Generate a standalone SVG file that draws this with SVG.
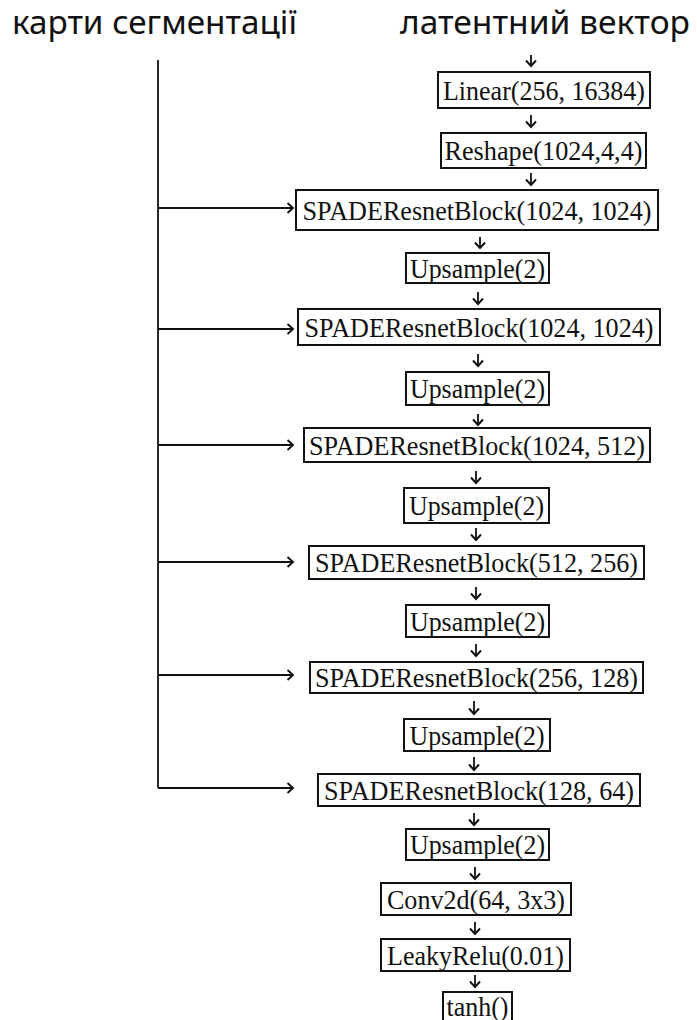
<svg xmlns="http://www.w3.org/2000/svg" width="697" height="1020" viewBox="0 0 697 1020">
<style>
.t{font-family:"Noto Sans","Open Sans",sans-serif;font-size:32px;fill:#111}
.b{fill:#fff;stroke:#111;stroke-width:2}
.l{font-family:"Liberation Serif","Times New Roman",serif;font-size:28px;fill:#111;text-anchor:middle}
.c{stroke:#111;stroke-width:1.8;fill:none}
</style>
<defs>
<marker id="ah" markerUnits="userSpaceOnUse" markerWidth="12" markerHeight="12" refX="8" refY="6" orient="auto">
<path d="M2.5,1 L8,6 L2.5,11" fill="none" stroke="#111" stroke-width="1.9"/>
</marker>
</defs>
<rect width="697" height="1020" fill="#fff"/>
<text class="t" x="12" y="34" textLength="285" lengthAdjust="spacingAndGlyphs">карти сегментації</text>
<text class="t" x="400" y="34" textLength="290" lengthAdjust="spacingAndGlyphs">латентний вектор</text>
<g id="connectors">
<path class="c" d="M158,60 V788"/>
<path class="c" marker-end="url(#ah)" d="M158,208 H293"/>
<path class="c" marker-end="url(#ah)" d="M158,329 H293"/>
<path class="c" marker-end="url(#ah)" d="M158,445 H293"/>
<path class="c" marker-end="url(#ah)" d="M158,562 H293"/>
<path class="c" marker-end="url(#ah)" d="M158,675 H293"/>
<path class="c" marker-end="url(#ah)" d="M158,788 H293"/>
<path class="c" marker-end="url(#ah)" d="M531,55 V66"/>
<path class="c" marker-end="url(#ah)" d="M531,115 V127"/>
<path class="c" marker-end="url(#ah)" d="M531,173 V185"/>
<path class="c" marker-end="url(#ah)" d="M480,237 V248"/>
<path class="c" marker-end="url(#ah)" d="M478,292 V304"/>
<path class="c" marker-end="url(#ah)" d="M478,354 V366"/>
<path class="c" marker-end="url(#ah)" d="M478,414 V425"/>
<path class="c" marker-end="url(#ah)" d="M476,471 V483"/>
<path class="c" marker-end="url(#ah)" d="M476,528 V540"/>
<path class="c" marker-end="url(#ah)" d="M476,587 V599"/>
<path class="c" marker-end="url(#ah)" d="M476,644 V656"/>
<path class="c" marker-end="url(#ah)" d="M474,701 V714"/>
<path class="c" marker-end="url(#ah)" d="M474,757 V770"/>
<path class="c" marker-end="url(#ah)" d="M474,813 V825"/>
<path class="c" marker-end="url(#ah)" d="M475,867 V879"/>
<path class="c" marker-end="url(#ah)" d="M475,922 V934"/>
<path class="c" marker-end="url(#ah)" d="M475,975 V987"/>
</g>
<g id="linear"><rect class="b" x="438" y="72" width="212" height="36"/><text class="l" x="544" y="100" textLength="202" lengthAdjust="spacingAndGlyphs">Linear(256, 16384)</text></g>
<g id="reshape"><rect class="b" x="441" y="133" width="205" height="35"/><text class="l" x="543.5" y="160" textLength="198" lengthAdjust="spacingAndGlyphs">Reshape(1024,4,4)</text></g>
<g id="spade1"><rect class="b" x="296" y="190" width="362" height="40"/><text class="l" x="477" y="220" textLength="349" lengthAdjust="spacingAndGlyphs">SPADEResnetBlock(1024, 1024)</text></g>
<g id="up1"><rect class="b" x="406" y="253" width="143" height="30"/><text class="l" x="477.5" y="278" textLength="135" lengthAdjust="spacingAndGlyphs">Upsample(2)</text></g>
<g id="spade2"><rect class="b" x="298" y="309" width="362" height="36"/><text class="l" x="479" y="337" textLength="349" lengthAdjust="spacingAndGlyphs">SPADEResnetBlock(1024, 1024)</text></g>
<g id="up2"><rect class="b" x="406" y="372" width="143" height="33"/><text class="l" x="477.5" y="398" textLength="135" lengthAdjust="spacingAndGlyphs">Upsample(2)</text></g>
<g id="spade3"><rect class="b" x="304" y="428" width="346" height="34"/><text class="l" x="477" y="455" textLength="336" lengthAdjust="spacingAndGlyphs">SPADEResnetBlock(1024, 512)</text></g>
<g id="up3"><rect class="b" x="404" y="488" width="145" height="35"/><text class="l" x="476.5" y="515" textLength="135" lengthAdjust="spacingAndGlyphs">Upsample(2)</text></g>
<g id="spade4"><rect class="b" x="309" y="546" width="335" height="33"/><text class="l" x="476.5" y="572" textLength="323" lengthAdjust="spacingAndGlyphs">SPADEResnetBlock(512, 256)</text></g>
<g id="up4"><rect class="b" x="406" y="605" width="143" height="32"/><text class="l" x="477.5" y="631" textLength="135" lengthAdjust="spacingAndGlyphs">Upsample(2)</text></g>
<g id="spade5"><rect class="b" x="310" y="662" width="333" height="31"/><text class="l" x="476.5" y="687" textLength="323" lengthAdjust="spacingAndGlyphs">SPADEResnetBlock(256, 128)</text></g>
<g id="up5"><rect class="b" x="404" y="719" width="146" height="32"/><text class="l" x="477" y="745" textLength="135" lengthAdjust="spacingAndGlyphs">Upsample(2)</text></g>
<g id="spade6"><rect class="b" x="318" y="774" width="322" height="32"/><text class="l" x="479" y="800" textLength="310" lengthAdjust="spacingAndGlyphs">SPADEResnetBlock(128, 64)</text></g>
<g id="up6"><rect class="b" x="406" y="829" width="143" height="31"/><text class="l" x="477.5" y="854" textLength="135" lengthAdjust="spacingAndGlyphs">Upsample(2)</text></g>
<g id="conv"><rect class="b" x="381" y="883" width="190" height="32"/><text class="l" x="476" y="909" textLength="178" lengthAdjust="spacingAndGlyphs">Conv2d(64, 3x3)</text></g>
<g id="leaky"><rect class="b" x="381" y="939" width="189" height="32"/><text class="l" x="475.5" y="965" textLength="177" lengthAdjust="spacingAndGlyphs">LeakyRelu(0.01)</text></g>
<g id="tanh"><rect class="b" x="443" y="992" width="69" height="36"/><text class="l" x="477.5" y="1016" textLength="62" lengthAdjust="spacingAndGlyphs">tanh()</text></g>
</svg>
